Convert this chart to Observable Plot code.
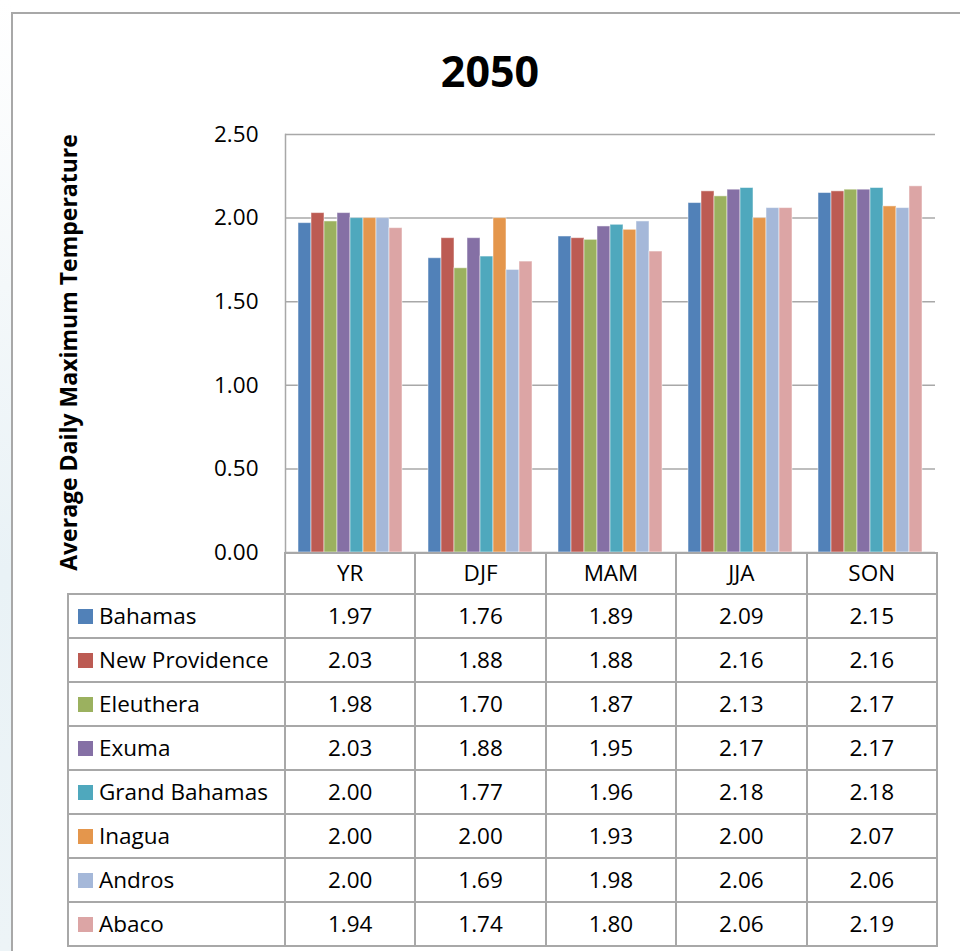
<!DOCTYPE html>
<html>
<head>
<meta charset="utf-8">
<script src="https://cdn.jsdelivr.net/npm/d3@7"></script>
<script src="https://cdn.jsdelivr.net/npm/@observablehq/plot@0.6"></script>
<style>
  html, body { margin: 0; padding: 0; background: #fff; }
  body { width: 960px; height: 951px; position: relative; overflow: hidden;
         font-family: "Open Sans", sans-serif; }
  #strip { position: absolute; left: 0; top: 0; width: 11px; height: 951px;
           background: linear-gradient(#ffffff 0%, #f4f8fa 30%, #e9f2f6 60%, #edf4f7 100%); }
  #frame { position: absolute; left: 11px; top: 12px; width: 1000px; height: 1000px;
           border-left: 2px solid #a8a8a8; border-top: 2px solid #a8a8a8; box-sizing: border-box; }
  #title { position: absolute; left: 0; top: 49px; width: 980px; text-align: center;
           font-size: 43px; line-height: 43px; font-weight: bold; color: #000; }
  #chart { position: absolute; left: 0; top: 0; }
  #tbl { position: absolute; left: 67px; top: 552px; border-collapse: collapse; border: none;
         font-size: 22.5px; color: #000; table-layout: fixed; }
  #tbl td { border: 2px solid #a8a8a8; padding: 0; box-sizing: border-box; line-height: 1; }
  #tbl tr.head td { height: 41px; text-align: center; }
  #tbl tr.head td.blank { border-top: none; border-left: none; }
  #tbl tr.row td { height: 44px; text-align: center; }
  #tbl tr.row td.lab { text-align: left; white-space: nowrap; }
  .sw { display: inline-block; width: 15px; height: 15px; margin-left: 9px; margin-right: 6px;
        vertical-align: 0px; }
</style>
</head>
<body>
<div id="strip"></div>
<div id="frame"></div>
<div id="chart"></div>
<div id="title"></div>
<table id="tbl"></table>
<script>
const titleText = "2050";
const yLabel = "Average Daily Maximum Temperature";
const categories = ["YR", "DJF", "MAM", "JJA", "SON"];
const series = ["Bahamas", "New Providence", "Eleuthera", "Exuma", "Grand Bahamas", "Inagua", "Andros", "Abaco"];
const bahamas       = [1.97, 1.76, 1.89, 2.09, 2.15];
const newProvidence = [2.03, 1.88, 1.88, 2.16, 2.16];
const eleuthera     = [1.98, 1.70, 1.87, 2.13, 2.17];
const exuma         = [2.03, 1.88, 1.95, 2.17, 2.17];
const grandBahamas  = [2.00, 1.77, 1.96, 2.18, 2.18];
const inagua        = [2.00, 2.00, 1.93, 2.00, 2.07];
const andros        = [2.00, 1.69, 1.98, 2.06, 2.06];
const abaco         = [1.94, 1.74, 1.80, 2.06, 2.19];
const yTicks = [0, 0.5, 1, 1.5, 2, 2.5];
const colors = ["#5181b8", "#bc5b53", "#9bb15f", "#8570a5", "#4fa8bd", "#e4964c", "#a5b8d9", "#dca5a5"];

const values = [bahamas, newProvidence, eleuthera, exuma, grandBahamas, inagua, andros, abaco];
const data = series.flatMap((s, i) => categories.map((c, j) => ({series: s, cat: c, value: values[i][j]})));

const FONT = "'Open Sans', sans-serif";
const chart = Plot.plot({
  width: 960, height: 580,
  marginLeft: 284, marginRight: 24, marginTop: 134, marginBottom: 28,
  style: {fontFamily: FONT, fontSize: "22.5px", color: "#000", background: "transparent", overflow: "visible"},
  fx: {domain: categories, padding: 0, axis: null},
  x: {domain: series, paddingInner: 0, paddingOuter: 0.72, axis: null},
  y: {domain: [0, 2.5]},
  color: {domain: series, range: colors},
  marks: [
    Plot.ruleY(yTicks, {stroke: "#a8a8a8", strokeWidth: 1.5}),
    Plot.barY(data, {fx: "cat", x: "series", y: "value", fill: "series",
                     stroke: "#ffffff", strokeOpacity: 0.5, strokeWidth: 1}),
    Plot.axisY(yTicks, {tickSize: 0, tickPadding: 27, tickFormat: d => d.toFixed(2),
                        label: null, fontSize: 22.5}),
    Plot.text([yLabel], {fx: () => categories[0], frameAnchor: "left", textAnchor: "middle",
                         rotate: -90, dx: -216, dy: 9,
                         fontWeight: "bold", fontSize: 23, fill: "#000"}),
    Plot.frame({anchor: "left", facet: "super", stroke: "#a8a8a8", strokeWidth: 1.5})
  ]
});
document.getElementById("chart").appendChild(chart);
document.getElementById("title").textContent = titleText;

// data table (acts as legend + x-axis labels)
const tbl = document.getElementById("tbl");
const colg = document.createElement("colgroup");
[217, ...categories.map(() => 130.4)].forEach(w => {
  const c = document.createElement("col"); c.style.width = w + "px"; colg.appendChild(c);
});
tbl.appendChild(colg);
const head = document.createElement("tr"); head.className = "head";
const blank = document.createElement("td"); blank.className = "blank"; head.appendChild(blank);
categories.forEach(c => { const td = document.createElement("td"); td.textContent = c; head.appendChild(td); });
tbl.appendChild(head);
series.forEach((s, i) => {
  const tr = document.createElement("tr"); tr.className = "row";
  const lab = document.createElement("td"); lab.className = "lab";
  const sw = document.createElement("span"); sw.className = "sw"; sw.style.background = colors[i];
  lab.appendChild(sw); lab.appendChild(document.createTextNode(s));
  tr.appendChild(lab);
  values[i].forEach(v => { const td = document.createElement("td"); td.textContent = v.toFixed(2); tr.appendChild(td); });
  tbl.appendChild(tr);
});
</script>
</body>
</html>
